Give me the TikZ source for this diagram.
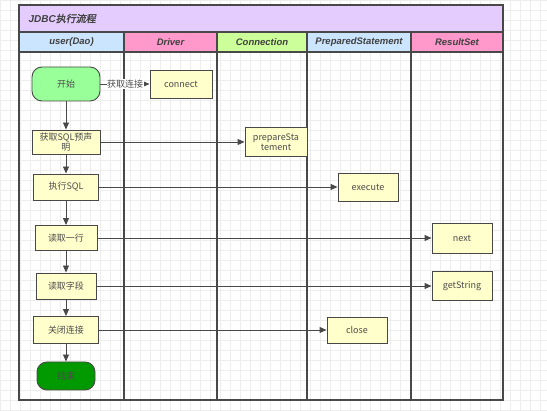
\documentclass[tikz,border=0pt]{standalone}
\usepackage{fontspec}
\setmainfont{Noto Sans CJK SC}
\newfontfamily\hdfont{Liberation Sans}
\newfontfamily\cjkbi{Noto Sans CJK SC}[AutoFakeSlant=0.2,AutoFakeBold=1.5]
\usepackage{tikz}
\usetikzlibrary{arrows.meta}
\definecolor{titlebg}{HTML}{E5CCFF}
\definecolor{lanebl}{HTML}{CCE5FF}
\definecolor{lanepk}{HTML}{FF99CC}
\definecolor{lanegr}{HTML}{CCFF99}
\definecolor{boxyel}{HTML}{FFFFCC}
\definecolor{startgr}{HTML}{99FF99}
\definecolor{endgr}{HTML}{009900}
\definecolor{linegr}{HTML}{484848}

\tikzset{
  procbox/.style={draw=linegr, line width=0.9pt, fill=boxyel, text=black!70,
    font=\fontsize{9}{10.5}\selectfont, align=center, inner sep=1pt},
  termbox/.style={procbox, rounded corners=10pt},
  flow/.style={draw=linegr, line width=0.9pt, -{Triangle[length=7pt,width=6pt]}},
  hdtext/.style={font=\hdfont\bfseries\itshape\fontsize{9.5}{11}\selectfont, text=black!75},
  lane/.style={draw=linegr, line width=1.1pt},
}

\begin{document}
\begin{tikzpicture}[x=1pt, y=-1pt]
    \useasboundingbox[fill=white] (0,0) rectangle (547,411);
    \draw[black!7, step=10pt] (0,0) grid (547,411);

    % title and lane headers
    \draw[lane, fill=titlebg] (19,5) rectangle (503,32);
    \node[hdtext, anchor=west, font=\fontsize{10}{12}\selectfont] (title) at (25,18.5)
        {{\hdfont\bfseries\itshape JDBC}{\cjkbi\bfseries\itshape 执行流程}};
    \draw[lane, fill=lanebl] (19,32) rectangle (124,52);
    \draw[lane, fill=lanepk] (124,32) rectangle (217,52);
    \draw[lane, fill=lanegr] (217,32) rectangle (307,52);
    \draw[lane, fill=lanebl] (307,32) rectangle (411,52);
    \draw[lane, fill=lanepk] (411,32) rectangle (503,52);
    \node[hdtext] (hduser) at (71.5,42) {user(Dao)};
    \node[hdtext] (hddriver) at (170.5,42) {Driver};
    \node[hdtext] (hdconn) at (262,42) {Connection};
    \node[hdtext] (hdprep) at (359,42) {PreparedStatement};
    \node[hdtext] (hdres) at (457,42) {ResultSet};

    % lanes
    \draw[lane] (19,52) rectangle (503,400);
    \foreach \x in {124,217,307,411}
    \draw[lane] (\x,52) -- (\x,400);

    % user(Dao) steps
    \node[termbox, fill=startgr, minimum width=68pt, minimum height=34pt] (start) at (66,84) {开始};
    \node[procbox, minimum width=68pt, minimum height=24pt] (getstmt) at (66,142) {获取SQL预声\\明};
    \node[procbox, minimum width=65pt, minimum height=26pt] (runsql) at (66,187) {执行SQL};
    \node[procbox, minimum width=62pt, minimum height=25pt] (readrow) at (66,238) {读取一行};
    \node[procbox, minimum width=60pt, minimum height=26pt] (readcol) at (66,286) {读取字段};
    \node[procbox, minimum width=65pt, minimum height=27pt] (closeconn) at (66,330) {关闭连接};
    \node[termbox, fill=endgr, minimum width=58pt, minimum height=28pt] (finish) at (66,376) {结束};

    % calls
    \node[procbox, minimum width=62pt, minimum height=28pt] (connect) at (181,84) {connect};
    \node[procbox, minimum width=62pt, minimum height=29pt] (prepare) at (276,142) {prepareSta\\tement};
    \node[procbox, minimum width=60pt, minimum height=28pt] (execute) at (368,187) {execute};
    \node[procbox, minimum width=60pt, minimum height=30pt] (next) at (462,238) {next};
    \node[procbox, minimum width=60pt, minimum height=29pt] (getstring) at (462,286) {getString};
    \node[procbox, minimum width=60pt, minimum height=26pt] (close) at (357,330) {close};

    \draw[flow] (start) -- (getstmt);
    \draw[flow] (getstmt) -- (runsql);
    \draw[flow] (runsql) -- (readrow);
    \draw[flow] (readrow) -- (readcol);
    \draw[flow] (readcol) -- (closeconn);
    \draw[flow] (closeconn) -- (finish);

    \draw[flow] (start) -- (connect)
        node[midway, fill=white, inner sep=0.5pt, text=black!70, font=\fontsize{9}{10}\selectfont] (lblconn) {获取连接};
    \draw[flow] (getstmt) -- (prepare);
    \draw[flow] (runsql) -- (execute);
    \draw[flow] (readrow) -- (next);
    \draw[flow] (readcol) -- (getstring);
    \draw[flow] (closeconn) -- (close);
\end{tikzpicture}
\end{document}
